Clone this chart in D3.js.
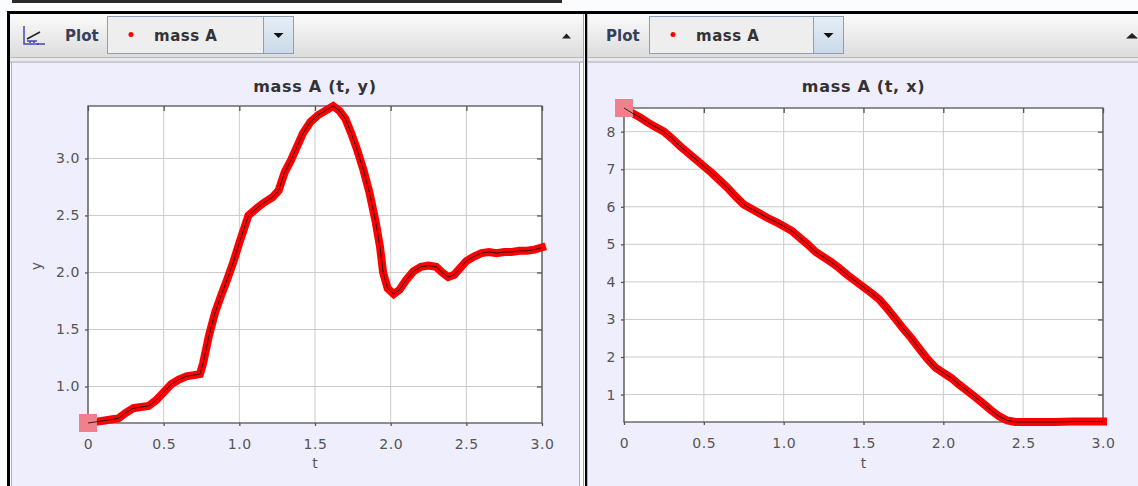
<!DOCTYPE html>
<html>
<head>
<meta charset="utf-8">
<script src="https://cdn.jsdelivr.net/npm/d3@7"></script>
<style>
  body { margin: 0; background: #fbfcfd; }
  text { font-family: "DejaVu Sans", sans-serif; }
</style>
</head>
<body>
<svg id="chart" width="1138" height="486"></svg>
<script>
// mass A (t, y)
var tY = [0.00, 0.05, 0.10, 0.15, 0.20, 0.25, 0.30, 0.35, 0.40, 0.45, 0.50, 0.55, 0.60, 0.65, 0.70, 0.74,
  0.76, 0.80, 0.84, 0.88, 0.92, 0.96, 1.00, 1.03, 1.06, 1.12, 1.16, 1.22, 1.26, 1.30, 1.34, 1.38, 1.42,
  1.47, 1.52, 1.57, 1.62, 1.66, 1.70, 1.74, 1.78, 1.82, 1.86, 1.90, 1.93, 1.95, 1.98, 2.02, 2.06, 2.10,
  2.15, 2.20, 2.25, 2.30, 2.34, 2.38, 2.42, 2.46, 2.50, 2.55, 2.60, 2.65, 2.70, 2.75, 2.80, 2.85, 2.90,
  2.95, 3.00];
var yVals = [0.68, 0.69, 0.70, 0.71, 0.72, 0.77, 0.81, 0.82, 0.83, 0.88, 0.95, 1.02, 1.06, 1.09, 1.10, 1.11,
  1.20, 1.45, 1.65, 1.80, 1.94, 2.09, 2.26, 2.38, 2.50, 2.57, 2.61, 2.66, 2.72, 2.88, 2.98, 3.10, 3.22,
  3.32, 3.38, 3.42, 3.46, 3.42, 3.35, 3.22, 3.07, 2.90, 2.70, 2.45, 2.22, 2.00, 1.86, 1.81, 1.85, 1.93,
  2.01, 2.05, 2.06, 2.05, 2.00, 1.96, 1.98, 2.04, 2.10, 2.14, 2.17, 2.18, 2.17, 2.18, 2.18, 2.19, 2.19,
  2.20, 2.22];

// mass A (t, x)
var tX = [0.00, 0.05, 0.10, 0.15, 0.20, 0.25, 0.30, 0.35, 0.40, 0.45, 0.50, 0.55, 0.60, 0.65, 0.70, 0.75,
  0.80, 0.85, 0.90, 0.95, 1.00, 1.05, 1.10, 1.15, 1.20, 1.25, 1.30, 1.35, 1.40, 1.45, 1.50, 1.55, 1.60,
  1.65, 1.70, 1.75, 1.80, 1.85, 1.90, 1.95, 2.00, 2.05, 2.10, 2.15, 2.20, 2.25, 2.30, 2.35, 2.40, 2.45,
  2.50, 2.60, 2.70, 2.80, 2.90, 3.00];
var xVals = [8.63, 8.50, 8.38, 8.24, 8.12, 8.00, 7.82, 7.62, 7.44, 7.26, 7.08, 6.90, 6.70, 6.50, 6.27, 6.06,
  5.94, 5.82, 5.70, 5.60, 5.48, 5.36, 5.18, 5.00, 4.80, 4.66, 4.52, 4.36, 4.18, 4.02, 3.86, 3.70, 3.53,
  3.28, 3.02, 2.75, 2.50, 2.22, 1.95, 1.72, 1.58, 1.44, 1.26, 1.10, 0.93, 0.76, 0.58, 0.42, 0.31, 0.27,
  0.27, 0.27, 0.27, 0.28, 0.28, 0.28];

var tTicks = [0, 0.5, 1.0, 1.5, 2.0, 2.5, 3.0];
var yTicks = [1.0, 1.5, 2.0, 2.5, 3.0];
var xTicks = [1, 2, 3, 4, 5, 6, 7, 8];

var svg = d3.select("#chart");
var defs = svg.append("defs");

var g1 = defs.append("linearGradient").attr("id", "toolbar").attr("x1", 0).attr("y1", 0).attr("x2", 0).attr("y2", 1);
g1.append("stop").attr("offset", "0%").attr("stop-color", "#fbfbfb");
g1.append("stop").attr("offset", "100%").attr("stop-color", "#dcdcdc");
var g2 = defs.append("linearGradient").attr("id", "btn").attr("x1", 0).attr("y1", 0).attr("x2", 0).attr("y2", 1);
g2.append("stop").attr("offset", "0%").attr("stop-color", "#e6eef6");
g2.append("stop").attr("offset", "100%").attr("stop-color", "#c9d9e8");

// window frame
svg.append("rect").attr("x", 12).attr("y", 0).attr("width", 550).attr("height", 3).attr("fill", "#2e2a28");
svg.append("rect").attr("x", 7).attr("y", 11).attr("width", 1131).attr("height", 3).attr("fill", "#000");
svg.append("rect").attr("x", 7).attr("y", 11).attr("width", 3).attr("height", 475).attr("fill", "#000");
svg.append("rect").attr("x", 585).attr("y", 11).attr("width", 2.5).attr("height", 475).attr("fill", "#000");

// panels
function panel(x0, x1, inner) {
  svg.append("rect").attr("x", x0).attr("y", 14).attr("width", x1 - x0).attr("height", 43).attr("fill", "url(#toolbar)");
  svg.append("rect").attr("x", x0).attr("y", 57).attr("width", x1 - x0).attr("height", 6).attr("fill", "#e9e9ee");
  svg.append("line").attr("x1", x0).attr("x2", x1).attr("y1", 57.5).attr("y2", 57.5).attr("stroke", "#b9b9b9");
  svg.append("line").attr("x1", x0).attr("x2", x1).attr("y1", 62).attr("y2", 62).attr("stroke", "#a8aeb6");
  svg.append("rect").attr("x", inner[0]).attr("y", 63).attr("width", inner[1] - inner[0]).attr("height", 423)
    .attr("fill", "#eeeefc");
}
panel(10, 584, [12, 580]);
svg.append("line").attr("x1", 11.5).attr("x2", 11.5).attr("y1", 62).attr("y2", 486).attr("stroke", "#a8aeb6");
svg.append("line").attr("x1", 579.5).attr("x2", 579.5).attr("y1", 62).attr("y2", 486).attr("stroke", "#a8aeb6");
svg.append("line").attr("x1", 583.5).attr("x2", 583.5).attr("y1", 14).attr("y2", 486).attr("stroke", "#9aa0a8");
panel(587.5, 1138, [587.5, 1138]);

// toolbar icon
var icon = svg.append("g").attr("stroke", "#4646b8").attr("fill", "none").attr("stroke-width", 1.5);
icon.append("path").attr("d", "M24,26 V44 H45");
icon.append("path").attr("d", "M27,39 L40,32").attr("stroke", "#222");
icon.append("path").attr("d", "M27,41 H37 M30,41 V43 M34,41 V43 M38,43 V45");

function toolbar(px, bx, bw, cw) {
  svg.append("text").attr("x", px).attr("y", 41).attr("font-size", 15).attr("font-weight", "bold")
    .attr("fill", "#35405a").text("Plot");
  svg.append("rect").attr("x", bx + 0.5).attr("y", 16.5).attr("width", bw).attr("height", 37)
    .attr("fill", "#eeeeee").attr("stroke", "#8d9fb3");
  svg.append("rect").attr("x", bx + 0.5 + bw - cw).attr("y", 16.5).attr("width", cw).attr("height", 37)
    .attr("fill", "url(#btn)").attr("stroke", "#8d9fb3");
  var cx = bx + bw - cw / 2 + 0.5;
  svg.append("path").attr("d", "M" + (cx - 5) + ",33 H" + (cx + 5) + " L" + cx + ",38 Z").attr("fill", "#111");
  svg.append("circle").attr("cx", bx + 24).attr("cy", 34.5).attr("r", 2.5).attr("fill", "#ff0000");
  svg.append("text").attr("x", bx + 47).attr("y", 41).attr("font-size", 15).attr("font-weight", "bold")
    .attr("letter-spacing", 0.5).attr("fill", "#333").text("mass A");
}
toolbar(65, 107, 186, 30);
toolbar(606, 649, 194, 30);
svg.append("path").attr("d", "M562,38.5 H571 L566.5,33.5 Z").attr("fill", "#222");
svg.append("path").attr("d", "M1126,38.5 H1138 L1132,33 Z").attr("fill", "#222");

function plot(o) {
  var x = d3.scaleLinear().domain([0, 3]).range([o.left, o.right]);
  var y = d3.scaleLinear().domain(d3.extent(o.v)).range([o.bottom, o.top]);
  var g = svg.append("g");
  g.append("rect").attr("x", o.left).attr("y", o.top).attr("width", o.right - o.left)
    .attr("height", o.bottom - o.top).attr("fill", "#fff");

  // grid
  g.selectAll(".gx").data(tTicks).enter().append("line")
    .attr("x1", function(d) { return x(d); }).attr("x2", function(d) { return x(d); })
    .attr("y1", o.top).attr("y2", o.bottom).attr("stroke", "#cbcbcb");
  g.selectAll(".gy").data(o.ticks).enter().append("line")
    .attr("y1", function(d) { return y(d); }).attr("y2", function(d) { return y(d); })
    .attr("x1", o.left).attr("x2", o.right).attr("stroke", "#cbcbcb");

  g.append("rect").attr("x", o.left).attr("y", o.top).attr("width", o.right - o.left)
    .attr("height", o.bottom - o.top).attr("fill", "none").attr("stroke", "#555").attr("stroke-width", 1.3);

  var fmtT = function(d) { return d === 0 ? "0" : d3.format(".1f")(d); };
  var ax = [
    g.append("g").attr("transform", "translate(0," + o.bottom + ")")
      .call(d3.axisBottom(x).tickValues(tTicks).tickFormat(fmtT).tickSize(3).tickPadding(13)),
    g.append("g").attr("transform", "translate(0," + o.top + ")")
      .call(d3.axisTop(x).tickValues(tTicks).tickFormat("").tickSize(-5)),
    g.append("g").attr("transform", "translate(" + o.left + ",0)")
      .call(d3.axisLeft(y).tickValues(o.ticks).tickFormat(o.fmt).tickSize(3).tickPadding(5)),
    g.append("g").attr("transform", "translate(" + o.right + ",0)")
      .call(d3.axisRight(y).tickValues(o.ticks).tickFormat("").tickSize(-5))
  ];
  ax.forEach(function(a) {
    a.select(".domain").remove();
    a.selectAll("line").attr("stroke", "#555").attr("stroke-width", 1.3);
    a.selectAll("text").attr("fill", "#555").attr("font-size", 14).attr("letter-spacing", 0.6)
      .attr("font-family", "DejaVu Sans, sans-serif");
  });

  var line = d3.line().x(function(d, i) { return x(o.t[i]); }).y(function(d) { return y(d); });
  g.append("path").datum(o.v).attr("d", line).attr("fill", "none").attr("stroke", "#ff0000")
    .attr("stroke-width", 8).attr("stroke-linejoin", "miter").attr("stroke-linecap", "square");
  g.append("rect").attr("x", x(o.t[0]) - 9).attr("y", y(o.v[0]) - 9).attr("width", 18).attr("height", 18)
    .attr("fill", "#f2808c");
  g.append("path").datum(o.v).attr("d", line).attr("fill", "none").attr("stroke", "#000").attr("stroke-width", 0.8);

  var cx = (o.left + o.right) / 2;
  g.append("text").attr("x", cx).attr("y", 92).attr("text-anchor", "middle").attr("font-size", 16)
    .attr("font-weight", "bold").attr("letter-spacing", 0.7).attr("fill", "#333").text(o.title);
  g.append("text").attr("x", cx).attr("y", 468).attr("text-anchor", "middle").attr("font-size", 14)
    .attr("fill", "#555").text("t");
  if (o.ylabel) {
    g.append("text").attr("transform", "translate(41,266) rotate(-90)").attr("text-anchor", "middle")
      .attr("font-size", 14).attr("fill", "#555").text(o.ylabel);
  }
}

plot({ left: 88, right: 542, top: 106, bottom: 423, t: tY, v: yVals, ticks: yTicks,
  fmt: d3.format(".1f"), title: "mass A (t, y)", ylabel: "y" });
plot({ left: 624, right: 1103, top: 108, bottom: 422, t: tX, v: xVals, ticks: xTicks,
  fmt: d3.format("d"), title: "mass A (t, x)", ylabel: null });
</script>
</body>
</html>
